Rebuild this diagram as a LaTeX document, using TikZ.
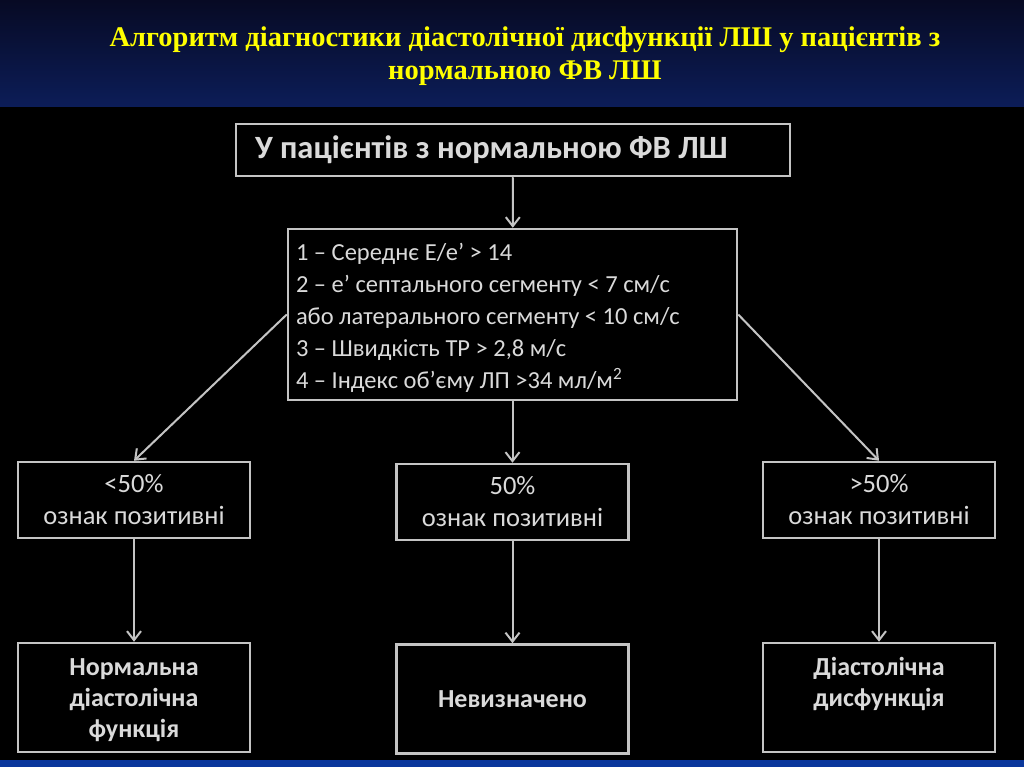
\documentclass[tikz,border=0pt]{standalone}
\usepackage{fontspec}
\setmainfont{Liberation Serif}
\newfontfamily\boxfont{Carlito}
\usetikzlibrary{arrows.meta,positioning}

\definecolor{hdtop}{HTML}{070A24}
\definecolor{hdbot}{HTML}{0C1D58}
\definecolor{stripblue}{HTML}{0A379C}
\definecolor{titleyellow}{HTML}{FFFF00}
\definecolor{linegray}{HTML}{C4C4C4}
\definecolor{textgray}{HTML}{DADADA}

\begin{document}
\begin{tikzpicture}[x=1pt,y=-1pt,
    box/.style={draw=linegray, line width=2.5pt, fill=black, text=textgray, align=center, inner sep=0pt,
      font=\boxfont\fontsize{26.5}{32}\selectfont},
    midbox/.style={box, minimum width=232pt, minimum height=76pt},
    endbox/.style={box, minimum width=232pt, minimum height=109pt, font=\boxfont\bfseries\fontsize{26}{31}\selectfont},
    link/.style={draw=linegray, line width=2pt, -{Straight Barb[length=9pt,width=14pt,line width=2pt]}}]
    \useasboundingbox (0,0) rectangle (1024,767);
    \fill[black] (0,0) rectangle (1024,767);
    \shade[top color=hdtop, bottom color=hdbot] (0,0) rectangle (1024,107);
    \fill[stripblue] (0,760) rectangle (1024,767);
    \node[align=center, text=titleyellow, font=\bfseries\fontsize{28.5}{33}\selectfont] (title) at (525,56)
        {Алгоритм діагностики діастолічної дисфункції ЛШ у пацієнтів з\\нормальною ФВ ЛШ};

    \node[box, minimum height=52pt, text width=516pt, inner xsep=19pt, align=flush left,
          font=\boxfont\bfseries\fontsize{32.5}{36}\selectfont] (top) at (513,150)
        {У пацієнтів з нормальною ФВ ЛШ};
    \node[box, minimum width=449pt, minimum height=171pt, text width=433pt, align=flush left,
          font=\boxfont\fontsize{24.5}{32}\selectfont] (crit) at (512.5,314.5)
        {\rule{0pt}{25pt}1 – Середнє E/e’ > 14\\
         2 – e’ септального сегменту < 7 см/с\\
         або латерального сегменту < 10 см/с\\
         3 – Швидкість ТР > 2,8 м/с\\
         4 – Індекс об’єму ЛП >34 мл/м\textsuperscript{2}};

    \node[midbox] (lm) at (134,500) {<50\%\\ознак позитивні};
    \node[midbox] (mm) at (512.5,502) {50\%\\ознак позитивні};
    \node[midbox] (rm) at (879,500) {>50\%\\ознак позитивні};

    \node[endbox] (lb) at (134,697.5) {\rule{0pt}{23pt}Нормальна\\діастолічна\\функція};
    \node[endbox] (mb) at (512.5,699) {Невизначено};
    \node[endbox] (rb) at (879,697.5) {Діастолічна\\дисфункція\\[-10pt]\strut};

    \draw[link] (top) -- (crit);
    \draw[link] (crit.west) -- (lm.north);
    \draw[link] (crit) -- (mm);
    \draw[link] (crit.east) -- (rm.north);
    \foreach \a/\b in {lm/lb,mm/mb,rm/rb} \draw[link] (\a) -- (\b);
\end{tikzpicture}
\end{document}
